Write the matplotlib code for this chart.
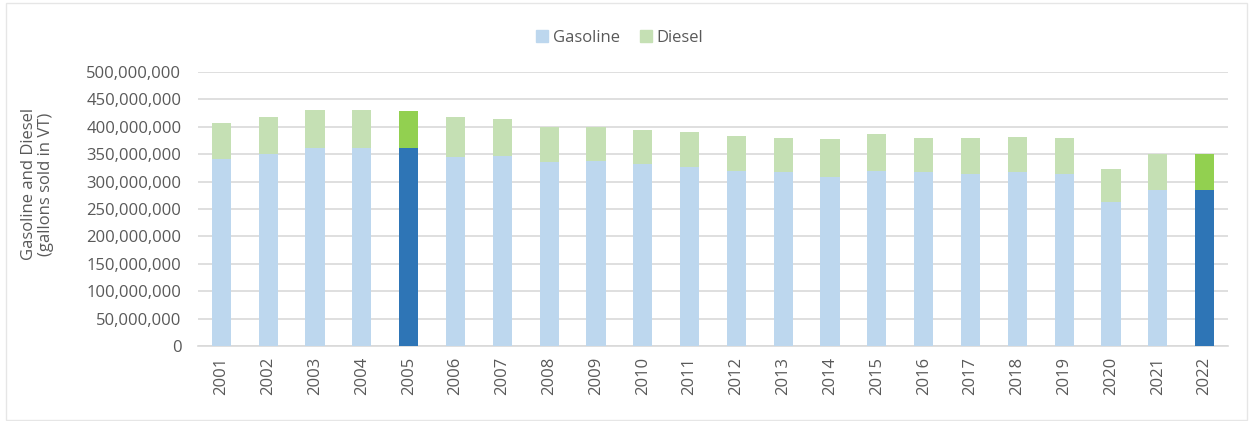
import matplotlib.pyplot as plt
import matplotlib.patches as mpatches
from matplotlib.ticker import FuncFormatter, MultipleLocator
import numpy as np

plt.rcParams['font.family'] = ['Open Sans', 'DejaVu Sans']

# data (gallons sold in VT)
years = [str(y) for y in range(2001, 2023)]
gasoline = [342e6, 350e6, 361e6, 361e6, 361e6, 344e6, 346e6, 336e6, 337e6, 332e6, 327e6,
            320e6, 317e6, 309e6, 320e6, 317e6, 314e6, 317e6, 314e6, 262e6, 285e6, 285e6]
total = [407e6, 417e6, 430e6, 431e6, 428e6, 417e6, 415e6, 400e6, 400e6, 395e6, 391e6,
         384e6, 380e6, 377e6, 387e6, 380e6, 380e6, 382e6, 380e6, 323e6, 350e6, 350e6]
diesel = [t - g for t, g in zip(total, gasoline)]
highlight = ['2005', '2022']

gas_col = '#BDD7EE'
dsl_col = '#C5E0B4'
gas_hi = '#2E75B6'
dsl_hi = '#92D050'
txt_col = '#595959'

fig = plt.figure(figsize=(12.49, 4.21), dpi=100)
ax = fig.add_axes([198/1249, 1 - 346/421, 1030/1249, 274/421])

x = np.arange(len(years))
gcols = [gas_hi if y in highlight else gas_col for y in years]
dcols = [dsl_hi if y in highlight else dsl_col for y in years]
ax.bar(x, gasoline, width=0.41, color=gcols, zorder=3)
ax.bar(x, diesel, width=0.41, bottom=gasoline, color=dcols, zorder=3)

ax.set_xlim(-0.5, len(years) - 0.5)
ax.set_ylim(0, 500e6)
ax.yaxis.set_major_locator(MultipleLocator(50e6))
ax.yaxis.set_major_formatter(FuncFormatter(lambda v, p: '{:,.0f}'.format(v)))
ax.grid(axis='y', color='#D9D9D9', linewidth=1.2, zorder=0)
for s in ['top', 'right', 'left']:
    ax.spines[s].set_visible(False)
ax.spines['bottom'].set_color('#D9D9D9')
ax.spines['bottom'].set_linewidth(1.2)

ax.set_xticks(x)
ax.set_xticklabels(years, rotation=90)
ax.tick_params(axis='both', length=0, labelsize=12, colors=txt_col)
ax.tick_params(axis='y', pad=12)
ax.tick_params(axis='x', pad=8)

ax.set_ylabel('Gasoline and Diesel\n(gallons sold in VT)', fontsize=12, color=txt_col,
              linespacing=1.05)
ax.yaxis.set_label_coords(-0.14, 0.59)

handles = [mpatches.Patch(color=gas_col, label='Gasoline'),
           mpatches.Patch(color=dsl_col, label='Diesel')]
fig.legend(handles=handles, loc='center', bbox_to_anchor=(620/1249, 1 - 38/421), ncol=2, frameon=False,
           fontsize=12, labelcolor=txt_col, handlelength=0.7, handleheight=0.7, handletextpad=0.3,
           columnspacing=1.2)

# light frame round the chart
fig.patches.append(mpatches.Rectangle((6/1249, 0.003), 1 - 8/1249, 0.99, transform=fig.transFigure,
                                      fill=False, edgecolor='#E6E6E6', linewidth=1))

fig.savefig('out.png', dpi=100)
